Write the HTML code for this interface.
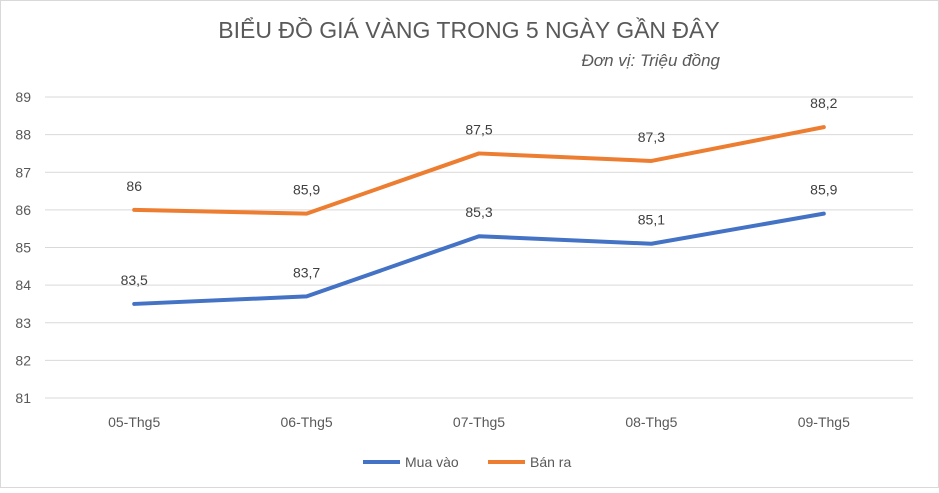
<!DOCTYPE html>
<html><head><meta charset="utf-8"><style>
body{margin:0;background:#fff;}
svg text{font-family:"Liberation Sans","DejaVu Sans",sans-serif;}
</style></head><body>
<svg width="939" height="488" viewBox="0 0 939 488" xmlns="http://www.w3.org/2000/svg">
<rect x="0.5" y="0.5" width="938" height="487" fill="#fff" stroke="#d9d9d9"/>
<text x="469" y="38" text-anchor="middle" font-size="23" fill="#595959">BIỂU ĐỒ GIÁ VÀNG TRONG 5 NGÀY GẦN ĐÂY</text>
<text x="720" y="66" text-anchor="end" font-size="17" font-style="italic" fill="#595959">Đơn vị: Triệu đồng</text>
<g id="grid"></g><g id="yt"></g><g id="xt"></g><g id="series"></g>
<g>
<line x1="363" y1="462" x2="400" y2="462" stroke="#4472c4" stroke-width="4"/>
<text x="405" y="467" font-size="14" fill="#595959">Mua vào</text>
<line x1="488" y1="462" x2="525" y2="462" stroke="#ed7d31" stroke-width="4"/>
<text x="530" y="467" font-size="14" fill="#595959">Bán ra</text>
</g>
</svg>
<script>
const categories=["05-Thg5","06-Thg5","07-Thg5","08-Thg5","09-Thg5"];
const buyValues=[83.5,83.7,85.3,85.1,85.9];
const sellValues=[86,85.9,87.5,87.3,88.2];
const yTicks=[81,82,83,84,85,86,87,88,89];
const NS="http://www.w3.org/2000/svg";
const x0=48,x1=910,yMin=81,yMax=89,yTop=97,yBot=398;
const step=(x1-x0)/categories.length;
const xs=i=>x0+step*(i+0.5);
const ys=v=>yBot-(v-yMin)/(yMax-yMin)*(yBot-yTop);
function mk(t,a,p){const e=document.createElementNS(NS,t);for(const k in a)e.setAttribute(k,a[k]);p.appendChild(e);return e;}
const g=document.getElementById('grid'),yt=document.getElementById('yt'),xt=document.getElementById('xt'),sg=document.getElementById('series');
yTicks.forEach(v=>{
 const l=mk('line',{x1:x0-3,x2:x1+3,y1:ys(v),y2:ys(v),stroke:'#d9d9d9','stroke-width':1},g);
 
 
 const t=mk('text',{x:31,y:ys(v)+5,'text-anchor':'end','font-size':14,fill:'#595959'},yt);
 t.textContent=v;
 
 
});
categories.forEach((c,i)=>{
 const t=mk('text',{x:xs(i),y:427,'text-anchor':'middle','font-size':14,fill:'#595959'},xt);
 t.textContent=c;
 
 
});
function series(vals,color,name){
 const p=mk('polyline',{points:vals.map((v,i)=>xs(i)+','+ys(v)).join(' '),fill:'none',stroke:color,'stroke-width':4,'stroke-linejoin':'round','stroke-linecap':'round'},sg);
 
 
 vals.forEach((v,i)=>{
  const t=mk('text',{x:xs(i),y:ys(v)-19,'text-anchor':'middle','font-size':14,fill:'#404040'},sg);
  t.textContent=String(v).replace('.',',');
  
  
 });
}
series(buyValues,'#4472c4','mua-vao');
series(sellValues,'#ed7d31','ban-ra');
</script>
</body></html>
